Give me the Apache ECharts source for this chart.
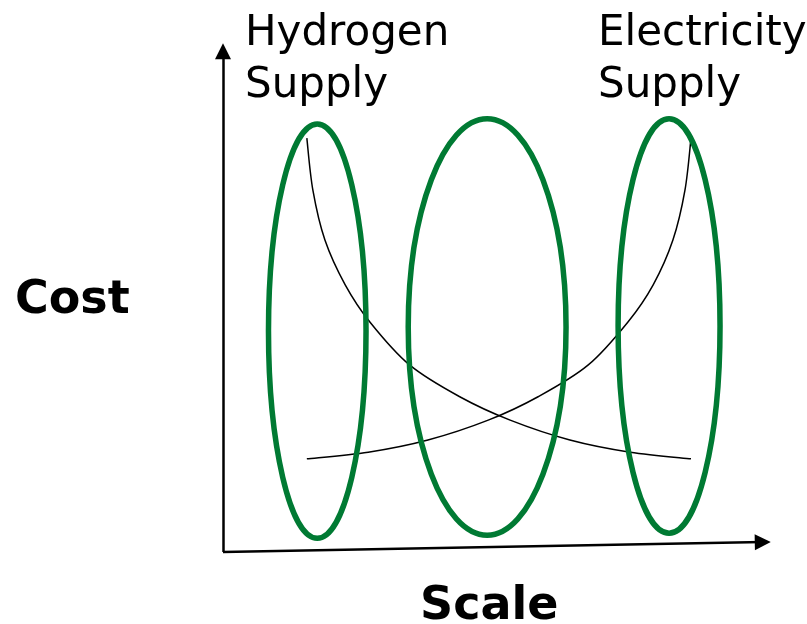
<!DOCTYPE html>
<html>
<head>
<meta charset="utf-8">
<script src="https://cdn.jsdelivr.net/npm/echarts@6/dist/echarts.min.js"></script>
<style>html,body{margin:0;padding:0;background:#fff}#c{width:807px;height:624px}</style>
</head>
<body>
<div id="c"></div>
<script>
// Conceptual units: Scale (x) 0-100, Cost (y) 0-100
var hydrogenCostX = [15.3, 16.4, 18.6, 22.3, 26.8, 34.1, 43.2, 52.4, 63.3, 74.3, 85.4];
var hydrogenCostY = [81.3, 71.1, 61.3, 52.5, 45.2, 36.7, 30.5, 25.9, 22.0, 19.6, 18.3];
var electricityCostX = [15.3, 26.5, 37.4, 48.4, 57.5, 66.6, 73.9, 78.5, 82.1, 84.3, 85.4];
var electricityCostY = [18.3, 19.6, 22.0, 25.9, 30.5, 36.7, 45.2, 52.5, 61.3, 71.1, 81.3];
// Ellipse groups: centre x, centre y, radius x, radius y (in data units)
var groupCx = [17.2, 48.2, 81.4];
var groupCy = [43.4, 44.2, 44.4];
var groupRx = [8.9, 14.4, 9.3];
var groupRy = [40.7, 40.9, 40.7];
var xAxisEnd = [98.5, 1.95];   // slightly rising x arrow
var yAxisEnd = [0, 98.4];

function pairs(xs, ys){ return xs.map(function(x,i){ return [x, ys[i]]; }); }
var curves = [pairs(hydrogenCostX, hydrogenCostY), pairs(electricityCostX, electricityCostY)];
var ellipseData = groupCx.map(function(c,i){ return [c, groupCy[i], groupRx[i], groupRy[i]]; });

// Catmull-Rom spline through pixel points -> SVG path
function splinePath(pts){
  var d = 'M' + pts[0][0] + ' ' + pts[0][1];
  for (var i = 0; i < pts.length - 1; i++) {
    var p0 = pts[Math.max(0, i-1)], p1 = pts[i], p2 = pts[i+1], p3 = pts[Math.min(pts.length-1, i+2)];
    var c1x = p1[0] + (p2[0]-p0[0])/6, c1y = p1[1] + (p2[1]-p0[1])/6;
    var c2x = p2[0] - (p3[0]-p1[0])/6, c2y = p2[1] - (p3[1]-p1[1])/6;
    d += ' C' + c1x + ' ' + c1y + ' ' + c2x + ' ' + c2y + ' ' + p2[0] + ' ' + p2[1];
  }
  return d;
}

var chart = echarts.init(document.getElementById('c'), null, {renderer:'canvas'});
var green = '#007a33';
chart.setOption({
  animation: false,
  backgroundColor: '#ffffff',
  grid: {left: 223, right: 36, top: 43, bottom: 72},
  xAxis: {type:'value', min:0, max:100, show:false},
  yAxis: {type:'value', min:0, max:100, show:false},
  graphic: [
    {type:'text', left:245, top:8, style:{text:'Hydrogen\nSupply', font:'42px "DejaVu Sans"', fill:'#000', lineHeight:52}},
    {type:'text', left:598, top:8, style:{text:'Electricity\nSupply', font:'42px "DejaVu Sans"', fill:'#000', lineHeight:52}},
    {type:'text', left:15, top:278, style:{text:'Cost', font:'bold 46px "DejaVu Sans"', fill:'#000'}},
    {type:'text', left:420, top:584, style:{text:'Scale', font:'bold 46px "DejaVu Sans"', fill:'#000'}}
  ],
  series: [
    {
      type:'line', data: [], silent:true,
      markLine: {
        silent:true, symbol:['none','triangle'], symbolSize:[16,16], animation:false,
        label:{show:false},
        lineStyle:{color:'#000', width:2.5, type:'solid'},
        data: [
          [{coord:[0,0]},{coord:xAxisEnd}],
          [{coord:[0,0]},{coord:yAxisEnd}]
        ]
      }
    },
    {
      type:'custom', data: [0, 1], silent:true,
      renderItem: function(params, api){
        var pts = curves[params.dataIndex].map(function(p){ return api.coord(p); });
        return {type:'path', shape:{pathData: splinePath(pts)},
          style:{fill:'none', stroke:'#000', lineWidth:1.5}};
      }
    },
    {
      type:'custom', data: ellipseData, silent:true,
      renderItem: function(params, api){
        var c = api.coord([api.value(0), api.value(1)]);
        var s = api.size([api.value(2), api.value(3)]);
        return {type:'ellipse', shape:{cx:c[0], cy:c[1], rx:s[0], ry:s[1]},
          style:{fill:'none', stroke:green, lineWidth:5.5}};
      }
    }
  ]
});
</script>
</body>
</html>
